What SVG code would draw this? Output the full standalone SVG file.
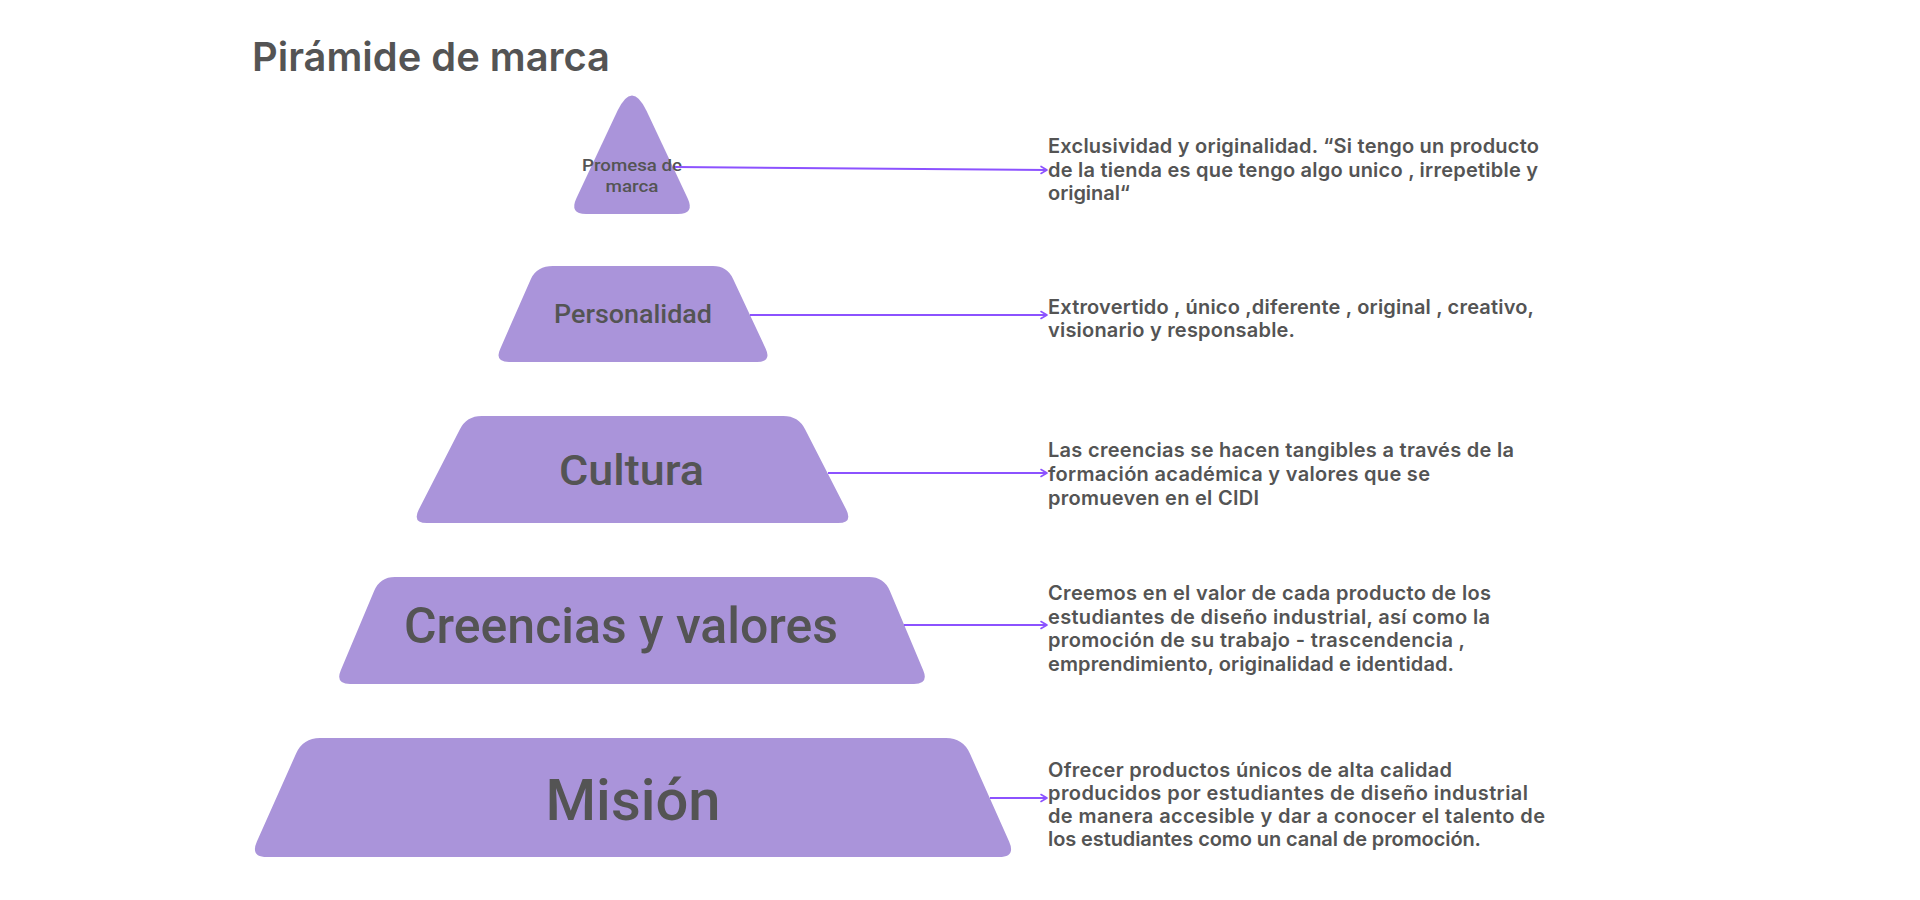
<svg xmlns="http://www.w3.org/2000/svg" width="1920" height="900" viewBox="0 0 1920 900">
<style>
.bg{fill:#ffffff}
.shape{fill:#aa94da}
.title{font-family:Inter,"Noto Sans","DejaVu Sans",sans-serif;font-weight:600;font-size:40px;fill:#545454}
.lbl{font-family:Roboto,"Liberation Sans",sans-serif;font-weight:500;fill:#545454;text-anchor:middle}
.desc{font-family:Inter,"Noto Sans","DejaVu Sans",sans-serif;font-weight:600;font-size:20px;fill:#545454}
.conn{stroke:#8c52ff;stroke-width:2;fill:none}
</style>
<defs>
<marker id="arr" markerUnits="userSpaceOnUse" markerWidth="12" markerHeight="12" refX="9" refY="6" orient="auto">
<path d="M3,2.5 L9,6 L3,9.5" fill="none" stroke="#8c52ff" stroke-width="1.6" stroke-linecap="round" stroke-linejoin="round"/>
</marker>
</defs>
<rect class="bg" x="0" y="0" width="1920" height="900"/>
<text class="title" x="252" y="71" textLength="358" lengthAdjust="spacingAndGlyphs">Pirámide de marca</text>

<g id="promesa">
<path class="shape" d="M617.5,110.8 Q632,80 646.5,110.8 L687.5,198 Q695,214 678,214 L586,214 Q569,214 576.5,198 Z"/>
<text class="lbl" x="632" y="171" font-size="16.5" textLength="100" lengthAdjust="spacingAndGlyphs">Promesa de</text>
<text class="lbl" x="632" y="192" font-size="16.5" textLength="53" lengthAdjust="spacingAndGlyphs">marca</text>
</g>
<g id="personalidad">
<path class="shape" d="M553,266 L713,266 Q727,266 733,278.7 L765.6,348.4 Q772,362 757,362 L509,362 Q494,362 500.4,348.4 L531,278.7 Q537,266 553,266 Z"/>
<text class="lbl" x="633" y="323" font-size="26" textLength="158" lengthAdjust="spacingAndGlyphs">Personalidad</text>
</g>
<g id="cultura">
<path class="shape" d="M481.6,416 L783.4,416 Q798.4,416 805.2,429.4 L846.2,509.6 Q853,523 838,523 L427,523 Q412,523 418.8,509.6 L459.8,429.4 Q466.6,416 481.6,416 Z"/>
<text class="lbl" x="631.5" y="485" font-size="43" textLength="145" lengthAdjust="spacingAndGlyphs">Cultura</text>
</g>
<g id="creencias">
<path class="shape" d="M395,577 L869,577 Q884,577 889.8,590.8 L923.2,670.2 Q929,684 914,684 L350,684 Q335,684 340.8,670.2 L374.2,590.8 Q380,577 395,577 Z"/>
<text class="lbl" x="621" y="643" font-size="50" textLength="434" lengthAdjust="spacingAndGlyphs">Creencias y valores</text>
</g>
<g id="mision">
<path class="shape" d="M320,738 L946,738 Q963,738 969.9,753.5 L1009.1,841.5 Q1016,857 999,857 L267,857 Q250,857 256.9,841.5 L296.1,753.5 Q303,738 320,738 Z"/>
<text class="lbl" x="633" y="820" font-size="58" textLength="175" lengthAdjust="spacingAndGlyphs">Misión</text>
</g>

<g id="connectors">
<path class="conn" d="M675,167 L1047,170" marker-end="url(#arr)"/>
<path class="conn" d="M750,315 L1047,315" marker-end="url(#arr)"/>
<path class="conn" d="M828,473 L1047,473" marker-end="url(#arr)"/>
<path class="conn" d="M904,625 L1047,625" marker-end="url(#arr)"/>
<path class="conn" d="M990,798 L1047,798" marker-end="url(#arr)"/>
</g>

<g id="desc-promesa">
<text class="desc" x="1048" y="153" textLength="491" lengthAdjust="spacing">Exclusividad y originalidad. “Si tengo un producto</text>
<text class="desc" x="1048" y="176.5" textLength="490" lengthAdjust="spacing">de la tienda es que tengo algo unico , irrepetible y</text>
<text class="desc" x="1048" y="200" textLength="82" lengthAdjust="spacing">original“</text>
</g>
<g id="desc-personalidad">
<text class="desc" x="1048" y="314" textLength="486" lengthAdjust="spacing">Extrovertido , único ,diferente , original , creativo,</text>
<text class="desc" x="1048" y="337" textLength="247" lengthAdjust="spacing">visionario y responsable.</text>
</g>
<g id="desc-cultura">
<text class="desc" x="1048" y="457" textLength="466" lengthAdjust="spacing">Las creencias se hacen tangibles a través de la</text>
<text class="desc" x="1048" y="481" textLength="382" lengthAdjust="spacing">formación académica y valores que se</text>
<text class="desc" x="1048" y="505" textLength="211" lengthAdjust="spacing">promueven en el CIDI</text>
</g>
<g id="desc-creencias">
<text class="desc" x="1048" y="600" textLength="443" lengthAdjust="spacing">Creemos en el valor de cada producto de los</text>
<text class="desc" x="1048" y="623.5" textLength="442" lengthAdjust="spacing">estudiantes de diseño industrial, así como la</text>
<text class="desc" x="1048" y="647" textLength="417" lengthAdjust="spacing">promoción de su trabajo - trascendencia ,</text>
<text class="desc" x="1048" y="670.5" textLength="406" lengthAdjust="spacing">emprendimiento, originalidad e identidad.</text>
</g>
<g id="desc-mision">
<text class="desc" x="1048" y="777" textLength="404" lengthAdjust="spacing">Ofrecer productos únicos de alta calidad</text>
<text class="desc" x="1048" y="800" textLength="480" lengthAdjust="spacing">producidos por estudiantes de diseño industrial</text>
<text class="desc" x="1048" y="823" textLength="497" lengthAdjust="spacing">de manera accesible y dar a conocer el talento de</text>
<text class="desc" x="1048" y="846" textLength="433" lengthAdjust="spacing">los estudiantes como un canal de promoción.</text>
</g>
</svg>
